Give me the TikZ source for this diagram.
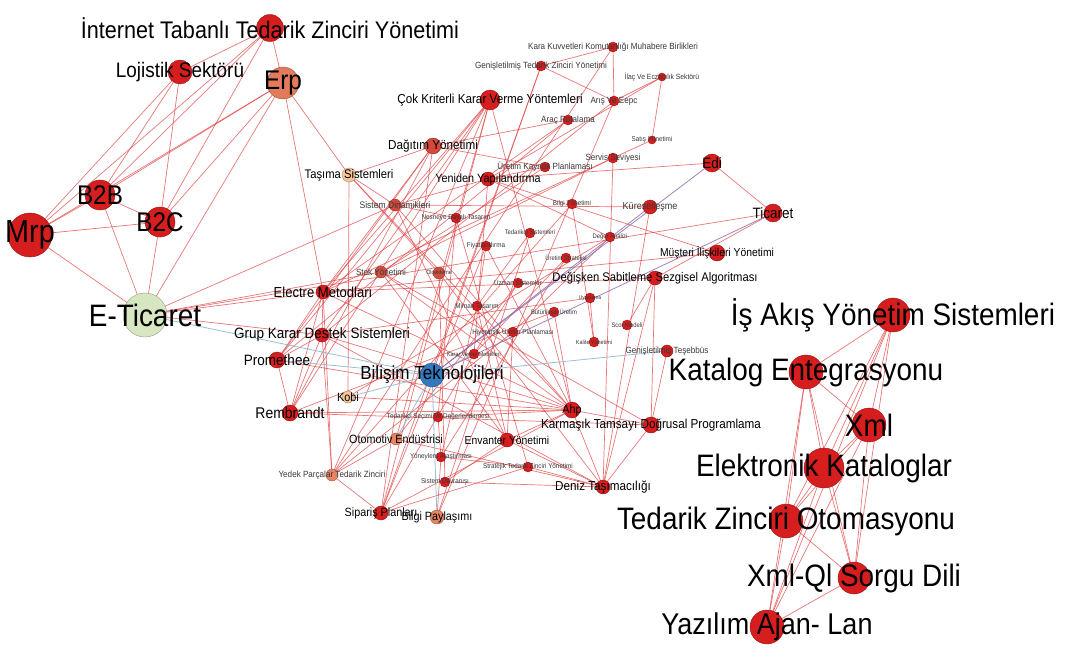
\documentclass[tikz,border=0pt]{standalone}
\usepackage{fontspec}
\setmainfont{Liberation Sans}[FakeStretch=0.9]
\definecolor{nred}{RGB}{214,30,30}
\definecolor{nerp}{RGB}{226,122,92}
\definecolor{netic}{RGB}{214,230,192}
\definecolor{ntas}{RGB}{244,198,152}
\definecolor{ndag}{RGB}{214,72,58}
\definecolor{nstok}{RGB}{206,82,62}
\definecolor{nsal}{RGB}{230,132,100}
\definecolor{nblue}{RGB}{52,120,190}
\definecolor{ered}{RGB}{222,60,60}
\definecolor{eblue}{RGB}{140,185,205}
\definecolor{epur}{RGB}{140,100,170}
\definecolor{lgrey}{RGB}{55,55,55}
\pgfdeclarelayer{bg}
\pgfsetlayers{bg,main}
\tikzset{
  gnode/.style={circle, inner sep=0pt, line width=0.4pt, fill=#1, draw=#1!70!black},
  glabel/.style={inner sep=0pt, text=black},
  slabel/.style={inner sep=0pt, text=lgrey},
  edge/.style={draw=ered, line width=0.7pt, opacity=0.7},
  edgeb/.style={draw=eblue, line width=0.8pt, opacity=0.9},
  edgep/.style={draw=epur, line width=0.8pt, opacity=0.8}
}
\newcommand\gn[5]{\node[gnode=#5, minimum size=#4pt] (#1) at (#2,#3) {};}
\newcommand\gl[3]{\node[glabel, font=\fontsize{#2}{#2}\selectfont] (l#1) at (#1) {#3};}
\newcommand\sgl[3]{\node[slabel, font=\fontsize{#2}{#2}\selectfont] (l#1) at (#1) {#3};}
\begin{document}
\begin{tikzpicture}[x=1pt,y=-1pt]
\useasboundingbox (0,0) rectangle (1068,650);
% nodes
\gn{itzy}{270}{28}{27}{nred}
\gn{loj}{180}{72}{24}{nred}
\gn{erp}{283}{83}{32}{nerp}
\gn{b2b}{100}{195}{30}{nred}
\gn{b2c}{160}{222}{30}{nred}
\gn{mrp}{30}{235}{44}{nred}
\gn{etic}{145}{315}{44}{netic}
\gn{tas}{349}{175}{14}{ntas}
\gn{dag}{433}{146}{16}{ndag}
\gn{cok}{490}{100}{20}{nred}
\gn{kara}{613}{47}{10}{nred}
\gn{gen}{541}{66}{10}{nred}
\gn{ilac}{662}{77}{8}{nred}
\gn{aris}{614}{101}{10}{nred}
\gn{arac}{568}{120}{10}{nred}
\gn{satis}{652}{140}{8}{nred}
\gn{serv}{613}{158}{10}{nred}
\gn{urk}{545}{167}{10}{nred}
\gn{yen}{488}{179}{14}{nred}
\gn{edi}{712}{163}{18}{nred}
\gn{tic}{773}{213}{18}{nred}
\gn{kur}{650}{207}{14}{nred}
\gn{mus}{717}{253}{16}{nred}
\gn{sisd}{395}{205}{12}{ndag}
\gn{nes}{456}{218}{10}{nred}
\gn{teds}{530}{233}{10}{nred}
\gn{bilg}{572}{204}{10}{nred}
\gn{deg}{610}{237}{10}{nred}
\gn{fiy}{486}{246}{10}{nred}
\gn{urs}{566}{258}{10}{nred}
\gn{stok}{381}{272}{12}{nstok}
\gn{olc}{439}{273}{12}{nstok}
\gn{uzm}{518}{283}{10}{nred}
\gn{mim}{477}{306}{10}{nred}
\gn{hiy}{513}{332}{10}{nred}
\gn{kvm}{474}{354}{10}{nred}
\gn{but}{554}{312}{10}{nred}
\gn{uyg}{590}{298}{10}{nred}
\gn{scor}{627}{325}{10}{nred}
\gn{kal}{594}{342}{10}{nred}
\gn{gent}{667}{351}{12}{nred}
\gn{dsa}{655}{278}{14}{nred}
\gn{ele}{323}{292}{14}{nred}
\gn{grup}{322}{335}{14}{nred}
\gn{prom}{277}{360}{16}{nred}
\gn{bil}{432}{375}{24}{nblue}
\gn{kobi}{348}{397}{12}{ntas}
\gn{rem}{290}{413}{16}{nred}
\gn{tsd}{438}{417}{10}{nred}
\gn{oto}{396}{439}{12}{nsal}
\gn{env}{507}{440}{14}{nred}
\gn{ahp}{572}{410}{16}{nred}
\gn{ktdp}{651}{425}{16}{nred}
\gn{yon}{441}{457}{10}{nred}
\gn{stz}{528}{467}{10}{nred}
\gn{sdv}{445}{482}{10}{nred}
\gn{yed}{332}{475}{12}{nsal}
\gn{den}{603}{487}{14}{nred}
\gn{sip}{381}{513}{14}{nred}
\gn{bpay}{437}{517}{14}{nsal}
\gn{isak}{893}{315}{34}{nred}
\gn{kat}{806}{372}{34}{nred}
\gn{xml}{869}{425}{34}{nred}
\gn{elk}{824}{468}{40}{nred}
\gn{tzo}{786}{521}{34}{nred}
\gn{xql}{854}{578}{32}{nred}
\gn{yaz}{767}{627}{34}{nred}
% edges
\begin{pgfonlayer}{bg}
\foreach \a/\b in {itzy/loj, itzy/b2b, itzy/mrp, itzy/erp, itzy/b2c, loj/b2b, loj/mrp, loj/b2c,
  erp/b2b, erp/mrp, erp/b2c, erp/etic, erp/ele, erp/tas, b2b/b2c, b2b/mrp, mrp/b2c, mrp/etic,
  b2b/etic, b2c/etic, etic/ele, etic/sisd, etic/stok, etic/tic, etic/grup,
  tas/sisd, tas/dag, tas/kobi, tas/olc, tas/ahp,
  dag/arac, dag/urk, dag/ele, dag/prom, dag/rem, dag/sip,
  cok/ele, cok/grup, cok/prom, cok/rem, cok/ahp, cok/yed, cok/sip, cok/oto,
  gen/kara, gen/aris, gen/bil, gen/sip, kara/aris, kara/yed,
  aris/ilac, aris/bpay, aris/grup, ilac/satis, ilac/yen, satis/serv,
  serv/stok, serv/ele, serv/den, arac/ele, arac/prom, urk/yen, urk/stok,
  yen/deg, yen/kvm, yen/sisd, yen/edi, yen/mus, edi/tic, kur/sisd, kur/den, mus/ele,
  dsa/ele, dsa/ktdp, dsa/den, dsa/tic, sisd/nes, sisd/ahp, sisd/env, nes/stz, nes/tsd,
  teds/mim, teds/bpay, bilg/kal, bilg/yed, deg/hiy, deg/kobi, fiy/sip, fiy/ahp, fiy/mim,
  urs/yon, urs/kvm, stok/env, stok/ahp, stok/ktdp, olc/sdv, olc/den, uzm/kvm, uzm/oto,
  mim/env, mim/yon, hiy/env, hiy/yed, kvm/sip, but/rem, but/ahp, uyg/kal, uyg/grup,
  scor/dsa, gent/ktdp, ele/grup, ele/prom, ele/rem, ele/ahp, grup/prom, grup/rem, grup/ahp,
  grup/den, prom/rem, prom/ahp, rem/ahp, rem/ktdp, kobi/ahp, tsd/ahp, tsd/yon, oto/yed,
  oto/den, env/ahp, env/den, env/sdv, ahp/ktdp, ahp/den, ktdp/den, yon/stz, yon/bpay,
  stz/den, stz/sip, sdv/den, yed/sip, yed/ele, yed/grup, sip/ahp,
  isak/kat, isak/xml, isak/elk, isak/tzo, isak/xql, isak/yaz, kat/xml, kat/elk, kat/tzo,
  kat/xql, kat/yaz, xml/elk, xml/tzo, xml/xql, xml/yaz, elk/tzo, elk/xql, elk/yaz,
  tzo/xql, tzo/yaz, xql/yaz}
  \draw[edge] (\a.center) -- (\b.center);
\foreach \a/\b in {etic/bil, bil/bpay, bil/oto, kobi/bil, prom/bil, bil/gent, bil/kvm}
  \draw[edgeb] (\a.center) -- (\b.center);
\foreach \a/\b in {edi/bil, tic/bil, kur/bil}
  \draw[edgep] (\a.center) -- (\b.center);
\end{pgfonlayer}
% labels
\gl{itzy}{24}{İnternet Tabanlı Tedarik Zinciri Yönetimi}
\gl{loj}{21}{Lojistik Sektörü}
\gl{erp}{27}{Erp}
\gl{b2b}{27}{B2B}
\gl{b2c}{27}{B2C}
\gl{mrp}{32}{Mrp}
\gl{etic}{31}{E-Ticaret}
\gl{tas}{12.5}{Taşıma Sistemleri}
\gl{dag}{13}{Dağıtım Yönetimi}
\gl{cok}{13}{Çok Kriterli Karar Verme Yöntemleri}
\sgl{kara}{9}{Kara Kuvvetleri Komutanlığı Muhabere Birlikleri}
\sgl{gen}{9}{Genişletilmiş Tedarik Zinciri Yönetimi}
\sgl{ilac}{7.5}{İlaç Ve Eczacılık Sektörü}
\sgl{aris}{9}{Arış Ve Eepc}
\sgl{arac}{9}{Araç Rotalama}
\sgl{satis}{7}{Satış Yönetimi}
\sgl{serv}{9}{Servis Seviyesi}
\sgl{urk}{9}{Üretim Kaynak Planlaması}
\gl{yen}{12}{Yeniden Yapılandırma}
\gl{edi}{15}{Edi}
\gl{tic}{15}{Ticaret}
\sgl{kur}{10}{Küreselleşme}
\gl{mus}{11.5}{Müşteri İlişkileri Yönetimi}
\sgl{sisd}{9.5}{Sistem Dinamikleri}
\sgl{nes}{7}{Nesneye Dayalı Tasarım}
\sgl{teds}{6.5}{Tedarikçi Sistemleri}
\sgl{bilg}{7}{Bilgi Yönetimi}
\sgl{deg}{6.5}{Değer Analizi}
\sgl{fiy}{7}{Fiyatlandırma}
\sgl{urs}{6.5}{Üretim Stratejisi}
\sgl{stok}{9}{Stok Yönetimi}
\sgl{olc}{6}{Ölçekleme}
\sgl{uzm}{7}{Uzman Sistemler}
\sgl{mim}{7}{Mimari Tasarım}
\sgl{hiy}{7}{Hiyerarşik Üretim Planlaması}
\sgl{kvm}{6}{Karar Verme Modelleri}
\sgl{but}{6.5}{Bütünleşik Üretim}
\sgl{uyg}{5.5}{Uygulama}
\sgl{scor}{6.5}{Scor Modeli}
\sgl{kal}{6}{Kalite Yönetimi}
\sgl{gent}{9}{Genişletilmiş Teşebbüs}
\gl{dsa}{12.5}{Değişken Sabitleme Sezgisel Algoritması}
\gl{ele}{14.5}{Electre Metodları}
\gl{grup}{15}{Grup Karar Destek Sistemleri}
\gl{prom}{15}{Promethee}
\gl{bil}{19}{Bilişim Teknolojileri}
\gl{kobi}{12}{Kobi}
\gl{rem}{15.5}{Rembrandt}
\sgl{tsd}{7}{Tedarikçi Seçimi Ve Değerlendirmesi}
\gl{oto}{12}{Otomotiv Endüstrisi}
\gl{env}{11.5}{Envanter Yönetimi}
\gl{ahp}{12}{Ahp}
\gl{ktdp}{13}{Karmaşık Tamsayı Doğrusal Programlama}
\sgl{yon}{7}{Yöneylem Araştırması}
\sgl{stz}{7}{Stratejik Tedarik Zinciri Yönetimi}
\sgl{sdv}{7}{Sistem Davranışı}
\sgl{yed}{9}{Yedek Parçalar Tedarik Zinciri}
\gl{den}{13}{Deniz Taşımacılığı}
\gl{sip}{12}{Sipariş Planları}
\gl{bpay}{12}{Bilgi Paylaşımı}
\gl{isak}{31}{İş Akış Yönetim Sistemleri}
\gl{kat}{31}{Katalog Entegrasyonu}
\gl{xml}{31}{Xml}
\gl{elk}{31}{Elektronik Kataloglar}
\gl{tzo}{31}{Tedarik Zinciri Otomasyonu}
\gl{xql}{31}{Xml-Ql Sorgu Dili}
\gl{yaz}{30}{Yazılım Ajan- Lan}
\end{tikzpicture}
\end{document}
